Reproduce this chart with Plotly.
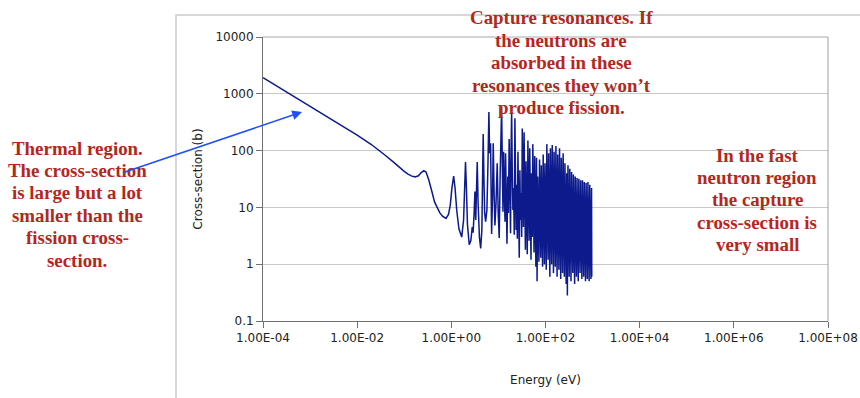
import plotly.graph_objects as go

# ---- data (energy in eV, capture cross-section in barns) ----
energy_ev = [
    1e-4, 2e-4, 5e-4, 1e-3, 2e-3, 5e-3, 1e-2, 2e-2, 3e-2, 4e-2, 6e-2, 8e-2,
    0.10, 0.12, 0.145, 0.17, 0.20, 0.23, 0.26, 0.29, 0.33, 0.38, 0.44, 0.50,
    0.57, 0.65, 0.77, 0.87, 0.95, 1.03, 1.12, 1.20, 1.30, 1.45, 1.66, 1.82,
    1.93, 2.0, 2.08, 2.2, 2.4, 2.6, 2.78, 2.9, 3.05, 3.17, 3.3, 3.45, 3.55,
    3.7, 3.95, 4.2, 4.45, 4.6, 4.75, 4.9, 5.1, 5.35, 5.7, 6.0, 6.28, 6.5,
    6.82, 7.0, 7.17, 7.5, 7.76, 8.1, 8.43, 8.9, 9.43, 9.9, 10.4,
    10.9, 11.3, 11.7, 12.1, 12.5, 12.9, 13.3, 13.8, 14.2, 14.7, 15.2, 15.8,
    16.3, 16.9, 17.5, 18.1, 18.6, 19.1, 19.7, 20.3, 21.0, 21.7, 22.4, 23.0,
    23.7, 24.4, 25.2, 26.0, 26.9, 27.7, 28.6, 29.4, 30.3, 31.2, 32.1, 33.0,
    34.0, 35.1, 36.3, 37.4, 38.6, 39.8, 41.0, 42.3, 43.5, 44.9, 46.3, 47.7,
    49.2, 50.6, 52.2, 53.8, 55.5, 57.1, 58.9, 60.7, 62.5, 64.4, 66.2, 68.3,
    70.3, 72.5, 74.7, 77.0, 79.3, 81.7, 84.2, 86.7, 89.3, 92.0, 94.8, 97.6,
    100.6, 103.6, 106.7, 109.9, 113.2, 116.6, 120.1, 123.7, 127.4, 131.2,
    135.1, 139.2, 143.4, 147.7, 152.1, 156.7, 161.4, 166.2, 171.2, 176.3,
    181.6, 187.1, 192.7, 198.5, 204.5, 210.6, 216.9, 223.4, 230.1, 237.0,
    244.1, 251.4, 258.9, 266.7, 274.7, 282.9, 291.4, 300.2, 309.2, 318.5,
    328.0, 337.9, 348.0, 358.4, 369.2, 380.3, 391.7, 403.4, 415.5, 428.0,
    440.8, 454.0, 467.6, 481.7, 496.1, 511.0, 526.3, 542.1, 558.4, 575.1,
    592.4, 610.2, 628.5, 647.3, 666.7, 686.7, 707.3, 728.5, 750.4, 772.9,
    796.1, 820.0, 844.6, 869.9, 896.0, 922.9, 950.6, 960.0,
]
cross_section_b = [
    1920, 1360, 860, 610, 430, 272, 188, 128, 100, 82, 62, 50,
    43, 38.5, 35.5, 34.5, 36, 41, 44.5, 42, 31, 20, 12.5, 10,
    8.0, 7.0, 6.4, 7.5, 11, 22, 35.5, 22, 9, 4.2, 3.0, 6,
    25, 63, 25, 5, 2.2, 2.6, 4.5, 3.6, 8, 19, 6, 18, 63,
    12, 3, 1.9, 4, 30, 195, 40, 8, 5.6, 9, 60, 480, 90,
    134, 20, 3.4, 15, 134, 18, 4.8, 12, 60, 8, 2.9,
    40, 240, 590, 60, 8.4, 95, 12, 5.6, 90, 20, 2.3, 35,
    8, 160, 18, 3.5, 120, 480, 40, 9, 22, 3.3, 370, 60,
    4, 25, 2.8, 95, 14, 1.3, 45, 6, 18, 3, 245, 30,
    4.5, 210, 12, 1.8, 65, 7, 1.5, 150, 20, 2.6, 110, 8,
    1.2, 40, 3, 130, 15, 1.6, 80, 4, 0.9, 75, 0.5, 35,
    5, 1.1, 70, 6, 1.3, 55, 2.2, 0.9, 85, 8, 1.0, 60,
    3, 0.8, 130, 6, 1.2, 90, 2, 0.6, 110, 9,
    1.0, 125, 3, 0.7, 95, 12, 0.9, 120, 4, 0.6,
    85, 1.5, 0.8, 110, 7, 0.55, 75, 2.5, 0.7, 90,
    5, 0.6, 60, 1.8, 0.45, 40, 0.28, 55, 3, 0.6,
    48, 1.2, 0.5, 42, 6, 0.7, 38, 1.5, 0.45, 35,
    4, 0.6, 33, 1.0, 0.5, 32, 5, 0.7, 30, 1.3,
    0.55, 30, 3, 0.6, 28, 1.5, 0.5, 27, 4, 0.55,
    28, 1.2, 0.5, 25, 2, 0.55, 22, 0.6,
]

x_tick_values = [1e-4, 1e-2, 1e0, 1e2, 1e4, 1e6, 1e8]
x_tick_labels = ["1.00E-04", "1.00E-02", "1.00E+00", "1.00E+02",
                 "1.00E+04", "1.00E+06", "1.00E+08"]
y_tick_values = [0.1, 1, 10, 100, 1000, 10000]
y_tick_labels = ["0.1", "1", "10", "100", "1000", "10000"]

note_thermal = ["Thermal region.", "The cross-section", "is large but a lot",
                "smaller than the", "fission cross-", "section."]
note_capture = ["Capture resonances. If", "the neutrons are", "absorbed in these",
                "resonances they won\u2019t", "produce fission."]
note_fast = ["In the fast", "neutron region", "the capture",
             "cross-section is", "very small"]

# ---- figure ----
W, H = 860, 398
L, R, T, B = 263, 32, 37, 77
pw, ph = W - L - R, H - T - B


def px(x):
    return (x - L) / pw


def py(y):
    return (H - B - y) / ph


fig = go.Figure()
fig.add_trace(go.Scatter(
    x=energy_ev, y=cross_section_b, mode="lines",
    line=dict(color="#0c1a8c", width=1.5),
    hoverinfo="skip", showlegend=False,
))

note_font = dict(family="Liberation Serif", size=18.9, color="#b2281c")
LINE = 22.4


def add_note(lines, cx, y_first):
    for i, s in enumerate(lines):
        fig.add_annotation(x=px(cx), y=py(y_first + i * LINE), xref="paper", yref="paper",
                           text="<b>" + s + "</b>", showarrow=False, font=note_font,
                           xanchor="center", yanchor="middle")


add_note(note_thermal, 77, 148)
add_note(note_capture, 561, 18)
add_note(note_fast, 757, 155)

# arrow
fig.add_annotation(x=px(302), y=py(112), xref="paper", yref="paper",
                   ax=122 - 302, ay=173 - 112, axref="pixel", ayref="pixel",
                   text="", showarrow=True, arrowhead=2, arrowsize=1.3,
                   arrowwidth=1.5, arrowcolor="#1e50ff", standoff=0)

# outer chart frame and plot borders
fig.add_shape(type="rect", xref="paper", yref="paper",
              x0=px(176), x1=px(900), y0=py(420), y1=py(15),
              line=dict(color="#cccccc", width=1.5), layer="below")
fig.add_shape(type="line", xref="paper", yref="paper", x0=0, x1=1, y0=1, y1=1,
              line=dict(color="#a8a8a8", width=1))
fig.add_shape(type="line", xref="paper", yref="paper", x0=1, x1=1, y0=0, y1=1,
              line=dict(color="#a0a0a0", width=1))

axis_font = dict(family="DejaVu Sans", size=12, color="#222222")
fig.update_xaxes(
    type="log", range=[-4, 8], tickvals=x_tick_values, ticktext=x_tick_labels,
    showgrid=False, zeroline=False, showline=True, linecolor="#707070", linewidth=1,
    ticks="outside", ticklen=6, tickcolor="#707070", tickfont=axis_font,
    title=dict(text="Energy (eV)", font=axis_font, standoff=31),
)
fig.update_yaxes(
    type="log", range=[-1, 4], tickvals=y_tick_values, ticktext=y_tick_labels,
    showgrid=True, gridcolor="#c8c8c8", gridwidth=1, zeroline=False,
    showline=True, linecolor="#707070", linewidth=1,
    ticks="outside", ticklen=6, tickcolor="#707070", tickfont=axis_font,
    title=dict(text="Cross-section (b)", font=axis_font, standoff=10),
)
fig.update_layout(
    width=W, height=H, margin=dict(l=L, r=R, t=T, b=B, autoexpand=False),
    paper_bgcolor="white", plot_bgcolor="white", showlegend=False,
)
fig.write_html("out.html")
